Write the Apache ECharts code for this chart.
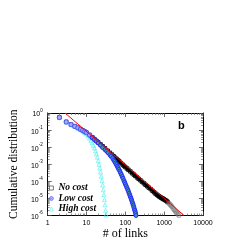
<!DOCTYPE html>
<html>
<head>
<meta charset="utf-8">
<script src="https://cdn.jsdelivr.net/npm/echarts@6/dist/echarts.min.js"></script>
<style>html,body{margin:0;padding:0;background:#fff}#c{width:245px;height:245px}</style>
</head>
<body>
<div id="c"></div>
<script>
// ---- data ----
var xTicks = [1, 10, 100, 1000, 10000];
var yTicks = [1e-6, 1e-5, 1e-4, 1e-3, 1e-2, 1e-1, 1];

var noCostK = [2,3,4,5,6,7,8,9,10,12,14,16,18,20,23,26,30,35,40,45,50,55,60,65,70,77,85,92,100,110,120,135,150,165,180,200,220,245,270,300,330,365,400,450,500,550,600,650,700,750,800,850,900,950,1000,1075,1150,1225];
var noCostP = [0.55,0.30,0.21,0.165,0.135,0.112,0.095,0.082,0.071,0.052,0.038,0.0295,0.0234,0.019,0.0145,0.0112,0.0085,0.0062,0.0047,0.0037,0.00295,0.0024,0.0020,0.0017,0.00145,0.00118,0.00095,0.0008,0.00068,0.00057,0.00047,0.00038,0.0003,0.00025,0.00021,0.00017,0.00014,0.000115,0.000093,0.000077,0.000063,0.000052,0.000043,0.000035,0.000028,0.000023,0.000019,0.0000165,0.0000145,0.000013,0.0000117,0.0000108,0.00001,0.0000093,0.0000087,0.0000078,0.0000071,0.0000062];
var noCostTailK = [1300,1380,1450,1520,1600,1700,1800,1900,2000,2100,2250,2400];
var noCostTailP = [0.0000054,0.0000047,0.0000042,0.0000037,0.0000032,0.0000026,0.0000022,0.0000019,0.0000016,0.0000014,0.0000012,0.000001];

var lowCostK = [2,3,4,5,6,7,8,9,10,12,14,16,18,20,23,26,30,33,36,40,43,47,50,53,56,59,62,65,68,72,75,79,83,87,92,96,100,105,110,115,120,125,130,135,140,145,150,155,160,165,170,175,180,184,188];
var lowCostP = [0.55,0.30,0.21,0.165,0.135,0.112,0.094,0.081,0.07,0.051,0.037,0.028,0.022,0.0175,0.0128,0.0095,0.0071,0.0058,0.0047,0.00355,0.0029,0.0023,0.00178,0.00145,0.00117,0.00095,0.00076,0.00062,0.0005,0.0004,0.000316,0.00025,0.00019,0.00015,0.00011,0.000088,0.000069,0.000054,0.000042,0.000033,0.000026,0.00002,0.000016,0.0000126,0.00001,0.000008,0.0000063,0.000005,0.000004,0.0000032,0.0000025,0.000002,0.0000016,0.0000013,0.000001];

var highCostK = [2,3,4,5,6,7,8,9,10,11,12,13,14,15,16,17,18,19,20,21,22,23,24,25,26,27,28,29,30,31,32];
var highCostP = [0.55,0.30,0.21,0.16,0.13,0.105,0.087,0.072,0.058,0.045,0.034,0.025,0.018,0.0128,0.009,0.006,0.004,0.0026,0.0016,0.001,0.0006,0.00035,0.0002,0.00011,0.00006,0.000032,0.000017,0.0000085,0.0000042,0.000002,0.0000011];

var fitK = [2.8, 3250];
var fitP = [1, 0.000001];

var seriesNames = ['No cost', 'Low cost', 'High cost'];
var panelLetter = 'b';
var denseFromK = 14; // above this k the points overlap into a continuous band

function pairs(xs, ys) { return xs.map(function (x, i) { return [x, ys[i]]; }); }
function sparse(xs, ys) { return pairs(xs, ys).filter(function (p) { return p[0] <= denseFromK; }); }
function dense(xs, ys) { return pairs(xs, ys).filter(function (p) { return p[0] >= denseFromK; }); }

var chart = echarts.init(document.getElementById('c'), null, {renderer: 'canvas'});

var tickFont = 'Liberation Sans';
var axisCommon = {
  axisLine: {show: true, lineStyle: {color: '#000', width: 1}},
  axisTick: {show: true, inside: true, length: 4, lineStyle: {color: '#444', width: 0.8}},
  minorTick: {show: true, splitNumber: 9, length: 2, lineStyle: {color: '#666', width: 0.7}},
  splitLine: {show: false}
};

var sq = {color: 'rgba(0,0,0,0)', borderColor: '#000', borderWidth: 0.9};
var circ = {color: '#9c9cff', borderColor: '#4040ff', borderWidth: 0.9};
var tri = {color: 'rgba(0,255,255,0.12)', borderColor: '#55eeee', borderWidth: 0.8};

var option = {
  animation: false,
  backgroundColor: '#fff',
  grid: {left: 41, right: 42, top: 113, bottom: 29.5, containLabel: false},
  xAxis: [
    Object.assign({
      type: 'log', logBase: 10, min: 1, max: 10000, position: 'bottom',
      name: '# of links', nameLocation: 'middle', nameGap: 8,
      nameTextStyle: {fontFamily: 'Liberation Serif', fontSize: 12, color: '#000', verticalAlign: 'top'},
      axisLabel: {show: true, fontFamily: tickFont, fontSize: 7, color: '#000', margin: 4,
        formatter: function (v) { return String(Math.round(v)); }}
    }, axisCommon),
    Object.assign({
      type: 'log', logBase: 10, min: 1, max: 10000, position: 'top',
      axisLabel: {show: false}
    }, axisCommon)
  ],
  yAxis: [
    Object.assign({
      type: 'log', logBase: 10, min: 1e-6, max: 1, position: 'left', splitNumber: 6,
      name: 'Cumulative distribution', nameLocation: 'middle', nameGap: 24,
      nameTextStyle: {fontFamily: 'Liberation Serif', fontSize: 11.5, color: '#000'},
      axisLabel: {show: true, margin: 5, color: '#000',
        formatter: function (v) {
          var e = Math.round(Math.log10(v));
          return '{b|10}{s|' + (e === 0 ? '0' : e) + '}';
        },
        rich: {
          b: {fontFamily: tickFont, fontSize: 7, color: '#000', lineHeight: 10, verticalAlign: 'bottom'},
          s: {fontFamily: tickFont, fontSize: 4.5, color: '#000', lineHeight: 10, verticalAlign: 'top', padding: [0, 0, 4, 0]}
        }}
    }, axisCommon),
    Object.assign({
      type: 'log', logBase: 10, min: 1e-6, max: 1, position: 'right', splitNumber: 6,
      axisLabel: {show: false}
    }, axisCommon)
  ],
  legend: {
    data: [
      {name: seriesNames[0], icon: 'rect', itemStyle: {color: '#fff', borderColor: '#333', borderWidth: 0.8}},
      {name: seriesNames[1], icon: 'circle', itemStyle: {color: '#9c9cff', borderColor: '#6060ff', borderWidth: 0.8}},
      {name: seriesNames[2], icon: 'triangle', itemStyle: {color: '#fff', borderColor: '#55eeee', borderWidth: 0.8}}
    ],
    orient: 'vertical', left: 49, top: 183,
    itemWidth: 4, itemHeight: 4, itemGap: 0.5,
    textStyle: {fontFamily: 'Liberation Serif', fontStyle: 'italic', fontWeight: 'bold', fontSize: 9.5, color: '#000', lineHeight: 9, padding: [0, 0, 0, 0]},
    padding: 0
  },
  graphic: [{
    type: 'text', left: 178, top: 120,
    style: {text: panelLetter, fontFamily: 'Liberation Sans', fontWeight: 'bold', fontSize: 11, fill: '#000'}
  }],
  series: [
    {name: 'No cost', type: 'scatter', symbol: 'rect', symbolSize: 3.5, itemStyle: sq,
     data: sparse(noCostK, noCostP), z: 2},
    {name: 'No cost', type: 'line', symbol: 'rect', symbolSize: 3.5, showSymbol: true, itemStyle: sq,
     lineStyle: {color: '#000', width: 2.5}, data: dense(noCostK, noCostP), z: 2},
    {name: 'No cost', type: 'scatter', symbol: 'rect', symbolSize: 3.5,
     itemStyle: {color: 'rgba(0,0,0,0)', borderColor: '#777', borderWidth: 0.8},
     data: pairs(noCostTailK, noCostTailP), z: 2},
    {name: 'High cost', type: 'scatter', symbol: 'triangle', symbolSize: 4, itemStyle: tri,
     data: pairs(highCostK, highCostP), z: 3},
    {name: 'Low cost', type: 'scatter', symbol: 'circle', symbolSize: 4.5, itemStyle: circ,
     data: sparse(lowCostK, lowCostP), z: 4},
    {name: 'Low cost', type: 'line', symbol: 'circle', symbolSize: 4, showSymbol: true,
     itemStyle: {color: '#3c9c9c', borderColor: '#2a2aff', borderWidth: 1},
     lineStyle: {color: '#2a2aff', width: 2.5}, data: dense(lowCostK, lowCostP), z: 4},
    {name: 'fit', type: 'line', symbol: 'none', data: pairs(fitK, fitP),
     lineStyle: {color: '#ff0000', width: 1}, z: 5}
  ]
};
chart.setOption(option);
</script>
</body>
</html>
